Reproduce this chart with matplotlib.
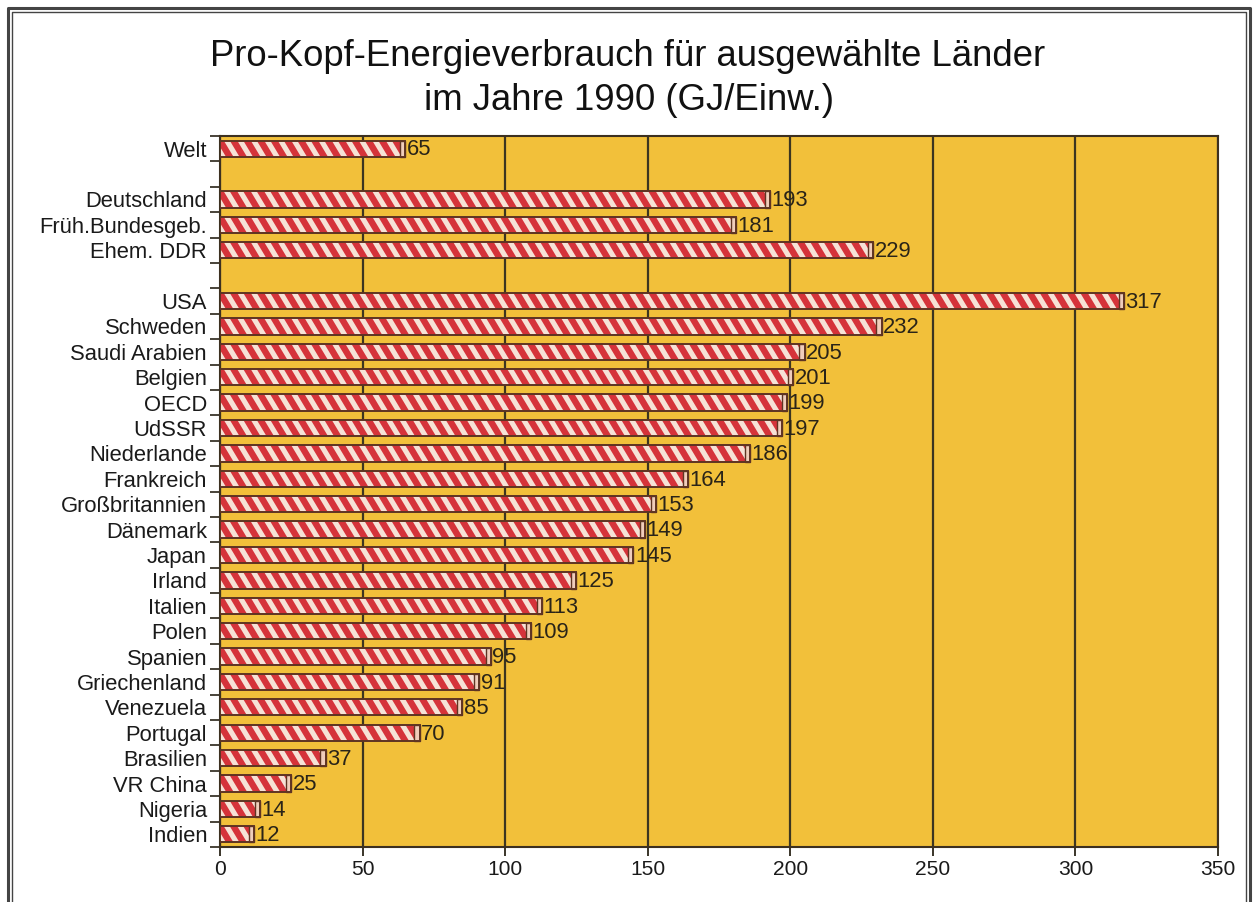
import matplotlib
matplotlib.use("Agg")
import matplotlib.pyplot as plt
from matplotlib.lines import Line2D
from matplotlib.collections import PolyCollection
import numpy as np

# Per-capita energy consumption 1990, GJ per inhabitant
countries = [
    "Welt",
    "Deutschland", "Früh.Bundesgeb.", "Ehem. DDR",
    "USA", "Schweden", "Saudi Arabien", "Belgien", "OECD", "UdSSR",
    "Niederlande", "Frankreich", "Großbritannien", "Dänemark", "Japan",
    "Irland", "Italien", "Polen", "Spanien", "Griechenland", "Venezuela",
    "Portugal", "Brasilien", "VR China", "Nigeria", "Indien",
]
values = [
    65,
    193, 181, 229,
    317, 232, 205, 201, 199, 197,
    186, 164, 153, 149, 145,
    125, 113, 109, 95, 91, 85,
    70, 37, 25, 14, 12,
]
# block number of each row; a blank row separates the blocks
groups = [0, 1, 1, 1] + [2] * 22
x_ticks = [0, 50, 100, 150, 200, 250, 300, 350]

title_lines = ["Pro-Kopf-Energieverbrauch für ausgewählte Länder",
               "im Jahre 1990 (GJ/Einw.)"]

DPI = 100
W, H = 1256, 902


def pt(pixels):
    return pixels * 72.0 / DPI


plt.rcParams["font.family"] = ["Liberation Sans", "DejaVu Sans"]

fig = plt.figure(figsize=(W / DPI, H / DPI), dpi=DPI)
fig.patch.set_facecolor("white")

ax_left, ax_right, ax_top, ax_bottom = 220, 1218, 136, 847
ax = fig.add_axes([ax_left / W, 1 - ax_bottom / H,
                   (ax_right - ax_left) / W, (ax_bottom - ax_top) / H])
ax.set_facecolor("#f2c03a")

vals = np.array(values, dtype=float)
pos = np.arange(len(values)) + np.array(groups)
bar_h = 0.64
cap = 1.8
edge = "#5e3423"

ax.set_xlim(0, 350)
ax.set_ylim(pos.max() + 0.5, -0.5)

# data units per pixel, for laying out the diagonal stripes
ux = 350.0 / (ax_right - ax_left)
uy = (pos.max() + 1.0) / (ax_bottom - ax_top)
period = 13.5 * ux
stripe_w = 6.0 * ux
shift = 0.6 * (bar_h / uy) * ux

# red body of each bar
body = ax.barh(pos, vals - cap, height=bar_h, color="#d5333a",
               linewidth=0, zorder=3)
# light diagonal stripes, clipped to each bar
for rect, v, p in zip(body.patches, vals, pos):
    top, bot = p - bar_h / 2, p + bar_h / 2
    starts = np.arange(-shift - period, v, period)
    polys = [[(s, top), (s + stripe_w, top),
              (s + stripe_w + shift, bot), (s + shift, bot)] for s in starts]
    pc = PolyCollection(polys, facecolors="#f6e2d6", edgecolors="none",
                        zorder=3.5)
    ax.add_collection(pc)
    pc.set_clip_path(rect)
# light end cap
ax.barh(pos, np.full(len(vals), cap), left=vals - cap, height=bar_h,
        color="#f0cdbb", edgecolor=edge, linewidth=1.0, zorder=4)
# outline
ax.barh(pos, vals, height=bar_h, fill=False, edgecolor=edge,
        linewidth=1.4, zorder=5)

for v, p in zip(values, pos):
    ax.text(v + 0.5, p + 0.05, str(v), ha="left", va="center",
            fontsize=pt(22), color="#2a2418", zorder=6)

ax.set_xticks(x_ticks)
ax.set_xticklabels([str(t) for t in x_ticks], fontsize=pt(21), color="#1a1a1a")
ax.tick_params(axis="x", length=pt(9), width=1.3, color="#2a2418", pad=pt(4))

ax.set_yticks(pos)
ax.set_yticklabels(countries, fontsize=pt(22), color="#1a1a1a")
ax.tick_params(axis="y", which="major", length=0, pad=pt(13))
ax.set_yticks(np.arange(-0.5, pos.max() + 1.0, 1.0), minor=True)
ax.tick_params(axis="y", which="minor", length=pt(10), width=1.2,
               color="#2a2418")

ax.grid(axis="x", color="#3c3520", linewidth=1.6)
ax.grid(axis="y", visible=False)
ax.set_axisbelow(True)
for side in ["left", "right", "top", "bottom"]:
    ax.spines[side].set_color("#3c3020")
    ax.spines[side].set_linewidth(1.5)

fig.text(628 / W, 1 - 57 / H, title_lines[0], ha="center", va="center",
         fontsize=pt(36.5), color="#111111")
fig.text(629 / W, 1 - 101 / H, title_lines[1], ha="center", va="center",
         fontsize=pt(36.5), color="#111111")

# double frame around the page
for off, lw in [(8, 2.2), (12, 1.0)]:
    x0, x1 = off / W, 1 - (off - 2) / W
    y1 = 1 - off / H
    fig.add_artist(Line2D([x0, x0, x1, x1], [0, y1, y1, 0],
                          transform=fig.transFigure, color="#444444",
                          linewidth=lw))

fig.savefig("out.png", dpi=DPI)
